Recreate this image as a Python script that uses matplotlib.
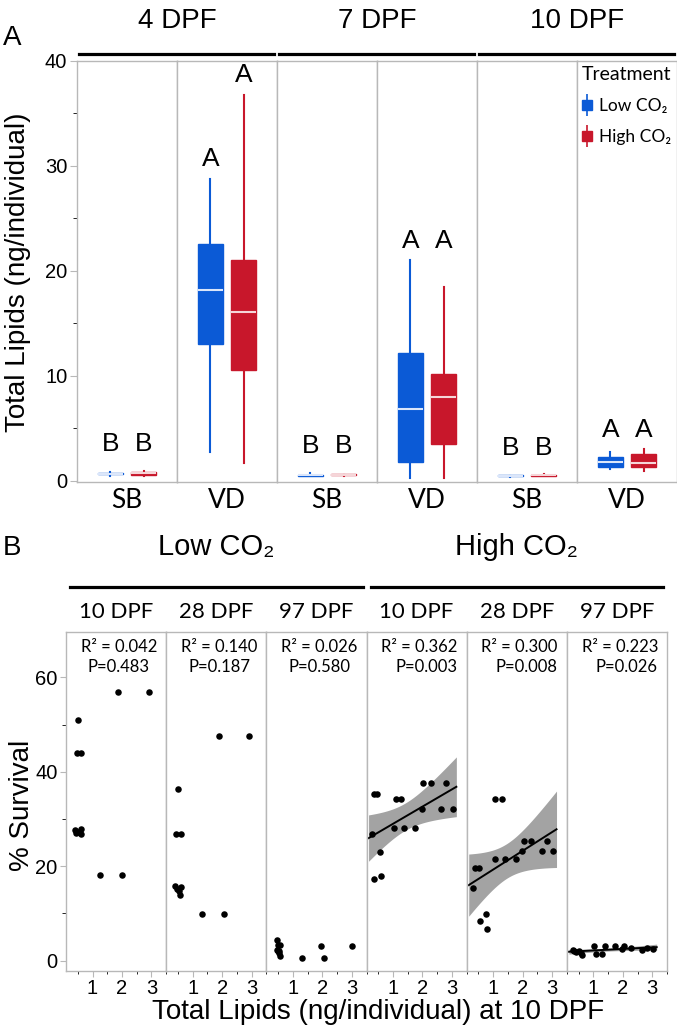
import matplotlib
matplotlib.use('Agg')
import matplotlib.pyplot as plt
import numpy as np
from matplotlib.lines import Line2D
from matplotlib.legend_handler import HandlerTuple
from matplotlib.ticker import MultipleLocator

# ---- panel A: total lipids box plots ----
ages_a = ['4 DPF', '7 DPF', '10 DPF']
tissues = ['SB', 'VD', 'SB', 'VD', 'SB', 'VD']

low_lo = [0.50, 2.8, 0.45, 0.3, 0.40, 1.1]
low_q1 = [0.62, 13.0, 0.50, 1.8, 0.44, 1.3]
low_med = [0.67, 18.2, 0.55, 6.9, 0.48, 1.8]
low_q3 = [0.72, 22.6, 0.60, 12.2, 0.52, 2.3]
low_hi = [0.85, 28.8, 0.75, 21.0, 0.58, 2.8]

high_lo = [0.45, 1.7, 0.50, 0.3, 0.45, 0.95]
high_q1 = [0.55, 10.6, 0.55, 3.5, 0.50, 1.3]
high_med = [0.72, 16.1, 0.60, 8.0, 0.54, 1.7]
high_q3 = [0.88, 21.0, 0.65, 10.2, 0.58, 2.6]
high_hi = [0.95, 36.8, 0.70, 18.5, 0.62, 3.0]

letters_low = ['B', 'A', 'B', 'A', 'B', 'A']
letters_high = ['B', 'A', 'B', 'A', 'B', 'A']

# ---- panel B: survival vs lipids ----
groups_b = ['Low CO₂', 'High CO₂']
ages_b = ['10 DPF', '28 DPF', '97 DPF']

lip_low_10 = [1.88, 2.92, 0.52, 0.46, 0.62, 0.39, 0.45, 0.52, 0.60, 0.62, 1.26, 1.99]
surv_low_10 = [56.8, 56.8, 51.0, 44.0, 44.0, 27.6, 27.0, 27.3, 27.8, 26.9, 18.1, 18.1]
lip_low_28 = [1.88, 2.90, 0.51, 0.44, 0.62, 0.39, 0.46, 0.52, 0.62, 0.57, 1.30, 2.05]
surv_low_28 = [47.5, 47.5, 36.4, 26.8, 26.8, 15.7, 15.2, 14.8, 15.5, 14.0, 9.9, 9.9]
lip_low_97 = [0.45, 0.48, 0.52, 0.47, 0.50, 0.56, 0.53, 0.55, 1.30, 1.95, 2.05, 3.00]
surv_low_97 = [2.3, 2.0, 2.1, 4.3, 3.4, 3.3, 1.6, 0.9, 0.5, 3.0, 0.5, 3.0]

lip_high_10 = [0.34, 0.46, 1.09, 1.28, 2.02, 2.28, 2.81, 1.97, 2.64, 3.02, 0.28,
               1.03, 1.37, 1.74, 0.56, 0.36, 0.58]
surv_high_10 = [35.2, 35.2, 34.3, 34.3, 37.6, 37.6, 37.6, 32.2, 32.2, 32.2, 26.8,
                28.0, 28.0, 28.0, 23.0, 17.3, 18.0]
lip_high_28 = [1.06, 1.29, 0.32, 0.39, 0.51, 1.07, 1.39, 1.77, 1.98, 2.29, 2.04,
               2.66, 3.04, 2.82, 0.76, 0.54, 0.79]
surv_high_28 = [34.3, 34.3, 15.4, 19.6, 19.6, 21.6, 21.6, 21.6, 23.3, 25.3, 25.3,
                23.3, 23.3, 25.3, 9.8, 8.3, 6.6]
lip_high_97 = [0.30, 0.36, 0.42, 0.50, 0.58, 0.62, 1.02, 1.10, 1.28, 1.38, 1.75,
               1.98, 2.03, 2.28, 2.65, 2.82, 3.02]
surv_high_97 = [2.2, 2.1, 1.9, 2.0, 1.6, 1.2, 3.1, 1.5, 1.5, 3.1, 3.1, 2.4, 3.1,
                2.7, 2.3, 2.7, 2.4]

r2_vals = [0.042, 0.140, 0.026, 0.362, 0.300, 0.223]
p_vals = [0.483, 0.187, 0.580, 0.003, 0.008, 0.026]

BLUE = '#0b5ad6'
RED = '#c8172b'
GRID = '#b8b8b8'
HELV = ['Liberation Sans', 'DejaVu Sans']
LATO = ['Lato', 'DejaVu Sans']

W, H = 677, 1027
fig = plt.figure(figsize=(W / 100, H / 100), dpi=100)


def px_axes(x0, y0, x1, y1):
    return fig.add_axes([x0 / W, 1 - y1 / H, (x1 - x0) / W, (y1 - y0) / H])


def hline(x0, x1, y, lw=2.3):
    fig.add_artist(Line2D([x0 / W, x1 / W], [1 - y / H, 1 - y / H],
                          transform=fig.transFigure, color='black', lw=lw))


def ftext(x, y, s, **kw):
    fig.text(x / W, 1 - y / H, s, **kw)


def style_facet(ax):
    for sp in ax.spines.values():
        sp.set_color(GRID)
        sp.set_linewidth(1.0)
    ax.tick_params(colors=GRID, labelcolor='black')


# ---------------- Panel A ----------------
a_edges = np.linspace(77, 677, 7)
for i in range(6):
    ax = px_axes(a_edges[i], 61, a_edges[i + 1], 482)
    ax.set_xlim(0, 1)
    ax.set_ylim(-0.1, 40)
    style_facet(ax)
    ax.set_xticks([])
    if i == 0:
        ax.yaxis.set_major_locator(MultipleLocator(10))
        ax.yaxis.set_minor_locator(MultipleLocator(5))
        ax.tick_params(axis='y', which='major', length=5, labelsize=14.5, pad=2)
        ax.tick_params(axis='y', which='minor', length=3)
        for lbl in ax.get_yticklabels():
            lbl.set_family(HELV)
    else:
        ax.set_yticks([])

    his = [low_hi[i], high_hi[i]]
    stats = []
    for lo, q1, med, q3, hi in [(low_lo[i], low_q1[i], low_med[i], low_q3[i], low_hi[i]),
                                (high_lo[i], high_q1[i], high_med[i], high_q3[i], high_hi[i])]:
        stats.append(dict(whislo=lo, q1=q1, med=med, q3=q3, whishi=hi))
    for k, (st, col, letter) in enumerate(zip(stats, [BLUE, RED],
                                              [letters_low[i], letters_high[i]])):
        pos = (k + 1) / 3
        light = '#dbe6fa' if col == BLUE else '#f5d5d8'
        ax.bxp([st], positions=[pos], widths=0.25, patch_artist=True,
               showfliers=False, showcaps=False,
               boxprops=dict(facecolor=col, edgecolor=col, linewidth=1),
               medianprops=dict(color=light, linewidth=1.5),
               whiskerprops=dict(color=col, linewidth=1.5),
               manage_ticks=False)
        # letters sit above the box; pairs with similar tops share one level
        base = max(his) if abs(his[0] - his[1]) < 5 else st['whishi']
        off = 0.7 if tissues[i] == 'VD' else 1.4
        ax.text(pos, base + off, letter, ha='center', va='bottom',
                fontsize=19, family=HELV)

    ftext((a_edges[i] + a_edges[i + 1]) / 2, 501, tissues[i], ha='center',
          va='center', fontsize=19, family=LATO)

    if i == 5:
        handles = [(Line2D([], [], marker='|', ms=16, mew=1.2, color=c, ls=''),
                    Line2D([], [], marker='s', ms=7.5, color=c, ls=''))
                   for c in [BLUE, RED]]
        leg = ax.legend(handles, ['Low CO₂', 'High CO₂'], title='Treatment',
                        loc='upper left', bbox_to_anchor=(0.0, 1.0),
                        frameon=False, borderpad=0.2, handlelength=0.6,
                        handletextpad=0.35, labelspacing=0.85, alignment='left',
                        borderaxespad=0.1,
                        handler_map={tuple: HandlerTuple(ndivide=1)},
                        prop=dict(family=LATO, size=12.5))
        leg.get_title().set_fontsize(14)
        leg.get_title().set_family(LATO)

for j, age in enumerate(ages_a):
    x0, x1 = a_edges[2 * j], a_edges[2 * j + 2]
    ftext((x0 + x1) / 2, 21, age, ha='center', va='center', fontsize=20, family=HELV)
    hline(x0 + 2, x1 - 3, 54)

ftext(12, 38, 'A', ha='center', va='center', fontsize=20, family=HELV)
ftext(18, 272, 'Total Lipids (ng/individual)', ha='center', va='center',
      rotation=90, fontsize=20, family=HELV)

# ---------------- Panel B ----------------
lip_sets = [lip_low_10, lip_low_28, lip_low_97, lip_high_10, lip_high_28, lip_high_97]
surv_sets = [surv_low_10, surv_low_28, surv_low_97, surv_high_10, surv_high_28, surv_high_97]
T_975 = 2.131  # t quantile, df = 15

b_edges = np.linspace(66, 667, 7)
for i in range(6):
    ax = px_axes(b_edges[i], 632, b_edges[i + 1], 971)
    ax.set_xlim(0.1, 3.5)
    ax.set_ylim(-2.2, 69.6)
    style_facet(ax)
    ax.xaxis.set_major_locator(MultipleLocator(1))
    ax.xaxis.set_minor_locator(MultipleLocator(0.5))
    ax.tick_params(axis='x', which='major', length=4, labelsize=14.5, pad=2)
    ax.tick_params(axis='x', which='minor', length=2)
    for lbl in ax.get_xticklabels():
        lbl.set_family(HELV)
    if i == 0:
        ax.yaxis.set_major_locator(MultipleLocator(20))
        ax.yaxis.set_minor_locator(MultipleLocator(10))
        ax.tick_params(axis='y', which='major', length=4, labelsize=14.5, pad=2)
        ax.tick_params(axis='y', which='minor', length=3)
        for lbl in ax.get_yticklabels():
            lbl.set_family(HELV)
    else:
        ax.set_yticks([])

    x = np.array(lip_sets[i])
    y = np.array(surv_sets[i])
    if p_vals[i] < 0.05:
        b1, b0 = np.polyfit(x, y, 1)
        n = len(x)
        resid = y - (b0 + b1 * x)
        s = np.sqrt(np.sum(resid ** 2) / (n - 2))
        sxx = np.sum((x - x.mean()) ** 2)
        xg = np.linspace(0.17, 3.15, 100)
        yg = b0 + b1 * xg
        ci = T_975 * s * np.sqrt(1 / n + (xg - x.mean()) ** 2 / sxx)
        ax.fill_between(xg, yg - ci, yg + ci, color='#a3a3a3', lw=0, zorder=1)
        ax.plot(xg, yg, color='black', lw=1.4, zorder=2)
    ax.scatter(x, y, s=22, color='black', lw=0, zorder=3)

    align = 'center' if i < 3 else 'right'
    ax.text(0.91, 0.98, f'R² = {r2_vals[i]:.3f}\nP={p_vals[i]:.3f}', transform=ax.transAxes,
            ha='right', va='top', multialignment=align, fontsize=12,
            linespacing=1.3, family=LATO)

    ftext((b_edges[i] + b_edges[i + 1]) / 2, 612, ages_b[i % 3], ha='center',
          va='center', fontsize=16, family=LATO)

for j, grp in enumerate(groups_b):
    x0, x1 = b_edges[3 * j], b_edges[3 * j + 3]
    ftext((x0 + x1) / 2, 547, grp, ha='center', va='center', fontsize=21, family=HELV)
    hline(x0 + 4, x1 - 4, 587)

ftext(12, 548, 'B', ha='center', va='center', fontsize=20, family=HELV)
ftext(22, 805, '% Survival', ha='center', va='center', rotation=90, fontsize=20,
      family=HELV)
ftext(378, 1012, 'Total Lipids (ng/individual) at 10 DPF', ha='center', va='center',
      fontsize=20, family=HELV)

fig.savefig('out.png', dpi=100)
